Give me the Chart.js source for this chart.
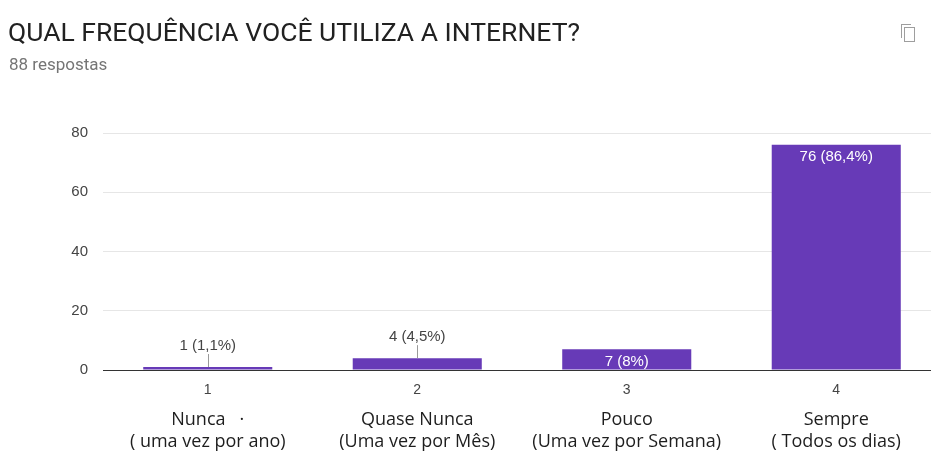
<!DOCTYPE html>
<html><head><meta charset="utf-8">
<script src="https://cdn.jsdelivr.net/npm/chart.js@4"></script>
<style>
body{margin:0;background:#fff;overflow:hidden;}
#wrap{position:relative;width:931px;height:455px;overflow:hidden;background:#fff;}
#cv{position:absolute;left:0;top:0;}
#title{position:absolute;left:8px;top:16px;font:26.5px Roboto;color:#212121;white-space:nowrap;}
#sub{position:absolute;left:9px;top:54px;font:17px Roboto;color:#757575;white-space:nowrap;}
#icon{position:absolute;left:901px;top:24px;width:14px;height:18px;}
#icon .a{position:absolute;left:0;top:0;width:9px;height:13px;border-left:1.5px solid #9e9e9e;border-top:1.5px solid #9e9e9e;}
#icon .b{position:absolute;left:3px;top:3px;width:9px;height:13px;border:1.5px solid #9e9e9e;background:#fff;}
</style></head><body>
<div id="wrap">
<canvas id="cv" width="941" height="455"></canvas>
<div id="title">QUAL FREQUÊNCIA VOCÊ UTILIZA A INTERNET?</div>
<div id="sub">88 respostas</div>
<div id="icon"><div class="a"></div><div class="b"></div></div>
</div>
<script>
const categories = ['1', '2', '3', '4'];
const categoryNames = [
  ['Nunca   ·', '( uma vez por ano)'],
  ['Quase Nunca', '(Uma vez por Mês)'],
  ['Pouco', '(Uma vez por Semana)'],
  ['Sempre', '( Todos os dias)']
];
const values = [1, 4, 7, 76];
const totalResponses = 88;
const yTicks = [0, 20, 40, 60, 80];

function pctText(v) {
  let s = (v / totalResponses * 100).toFixed(1);
  if (s.endsWith('.0')) s = s.slice(0, -2);
  return s.replace('.', ',');
}

const labelPlugin = {
  id: 'barLabels',
  afterDatasetsDraw(chart) {
    const ctx = chart.ctx;
    const meta = chart.getDatasetMeta(0);
    ctx.save();
    ctx.font = '15px "Liberation Sans", Arial, sans-serif';
    ctx.textAlign = 'center';
    ctx.textBaseline = 'middle';
    meta.data.forEach((bar, i) => {
      const v = values[i];
      const txt = v + ' (' + pctText(v) + '%)';
      const h = bar.base - bar.y;
      if (h > 16) {
        ctx.fillStyle = '#ffffff';
        ctx.fillText(txt, bar.x, bar.y + 12.5);
      } else {
        ctx.strokeStyle = '#9a9a9a';
        ctx.lineWidth = 1;
        ctx.beginPath();
        ctx.moveTo(Math.round(bar.x) + 0.5, bar.y);
        ctx.lineTo(Math.round(bar.x) + 0.5, bar.y - 13);
        ctx.stroke();
        ctx.fillStyle = '#444444';
        ctx.fillText(txt, bar.x, bar.y - 21.5);
      }
    });
    const xs = chart.scales.x;
    ctx.font = '18px "Open Sans", sans-serif';
    ctx.fillStyle = '#1e1e1e';
    categoryNames.forEach((lines, i) => {
      const x = xs.getPixelForValue(i);
      lines.forEach((l, j) => ctx.fillText(l, x, 420 + j * 22));
    });
    ctx.restore();
  }
};

new Chart(document.getElementById('cv'), {
  type: 'bar',
  data: {
    labels: categories,
    datasets: [{
      data: values,
      backgroundColor: '#673ab7',
      borderWidth: 0,
      categoryPercentage: 1,
      barPercentage: 0.616
    }]
  },
  options: {
    responsive: false,
    animation: false,
    devicePixelRatio: 1,
    layout: { padding: { top: 133, left: 0, right: 0, bottom: 0 } },
    plugins: { legend: { display: false }, tooltip: { enabled: false } },
    scales: {
      x: {
        grid: { display: false, drawTicks: false },
        border: { display: true, color: '#333333', width: 1 },
        ticks: { color: '#444444', font: { family: '"Liberation Sans", Arial, sans-serif', size: 14 }, padding: 12 },
        afterFit(scale) { scale.height = 455 - 370; }
      },
      y: {
        min: 0,
        max: 80,
        afterBuildTicks(scale) { scale.ticks = yTicks.map(v => ({ value: v })); },
        grid: { color: ctx => ctx.tick && ctx.tick.value === 0 ? '#333333' : '#e6e6e6', drawTicks: false },
        border: { display: false },
        ticks: { color: '#444444', font: { family: '"Liberation Sans", Arial, sans-serif', size: 15 }, padding: 15 },
        afterFit(scale) { scale.width = 103; }
      }
    }
  },
  plugins: [labelPlugin]
});
</script>
</body></html>
